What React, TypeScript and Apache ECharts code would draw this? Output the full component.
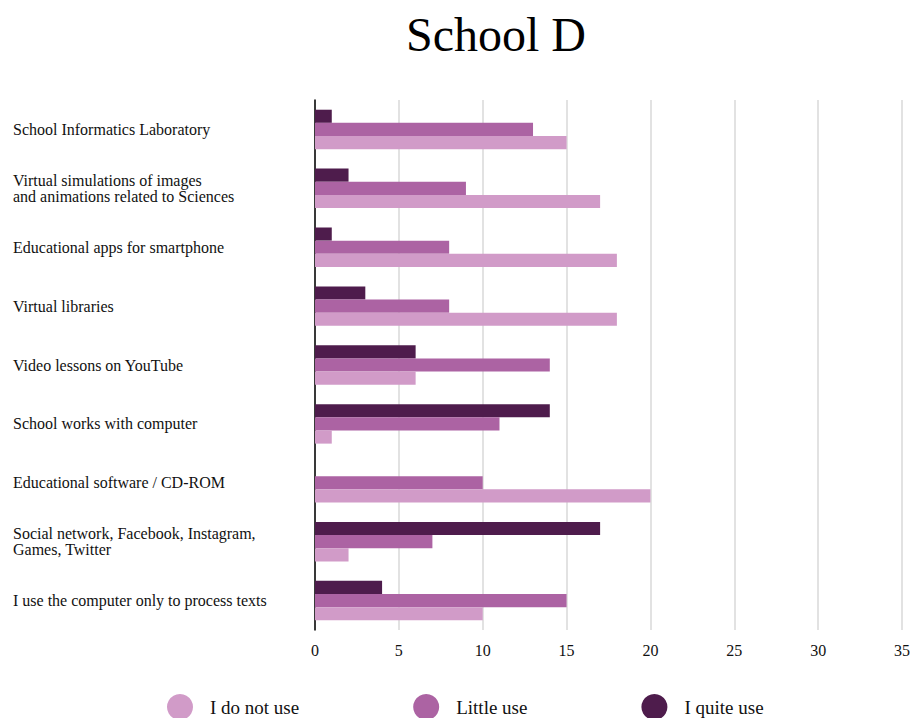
import React, { useEffect, useRef } from "react";
import * as echarts from "echarts";

const categories = [
  "School Informatics Laboratory",
  "Virtual simulations of images\nand animations related to Sciences",
  "Educational apps for smartphone",
  "Virtual libraries",
  "Video lessons on YouTube",
  "School works with computer",
  "Educational software / CD-ROM",
  "Social network, Facebook, Instagram,\nGames, Twitter",
  "I use the computer only to process texts",
];
const doNotUse = [15, 17, 18, 18, 6, 1, 20, 2, 10];
const littleUse = [13, 9, 8, 8, 14, 11, 10, 7, 15];
const quiteUse = [1, 2, 1, 3, 6, 14, 0, 17, 4];

const FONT = "'Liberation Serif', 'Times New Roman', serif";

export default function App() {
  const ref = useRef<HTMLDivElement>(null);
  useEffect(() => {
    const chart = echarts.init(ref.current!, undefined, { renderer: "svg" });
    chart.setOption({
      animation: false,
      textStyle: { fontFamily: FONT },
      title: {
        text: "School D",
        left: 401,
        top: 5,
        textStyle: { fontFamily: FONT, fontSize: 48, fontWeight: "normal", color: "#000" },
      },
      legend: {
        data: ["I do not use", "Little use", "I quite use"],
        left: 162,
        top: 689,
        icon: "circle",
        itemWidth: 28,
        itemHeight: 26,
        itemGap: 114,
        textStyle: { fontFamily: FONT, fontSize: 19, color: "#111", padding: [0, 0, 0, 11] },
      },
      grid: { left: 315, right: 10, top: 100, bottom: 88, containLabel: false },
      xAxis: {
        type: "value",
        min: 0,
        max: 35,
        interval: 5,
        axisLine: { show: false },
        axisTick: { show: false },
        splitLine: { show: true, lineStyle: { color: "#d9d9d9", width: 1.5 } },
        axisLabel: { fontFamily: FONT, fontSize: 16, color: "#111", margin: 12 },
      },
      yAxis: {
        type: "category",
        data: categories,
        inverse: true,
        axisLine: { show: true, lineStyle: { color: "#000", width: 1.5 } },
        axisTick: { show: false },
        axisLabel: {
          fontFamily: FONT,
          fontSize: 16,
          color: "#111",
          align: "left",
          margin: 302,
          lineHeight: 16,
          padding: [0, 0, 5, 0],
        },
      },
      series: [
        {
          name: "I quite use",
          type: "bar",
          data: quiteUse,
          itemStyle: { color: "#4e1c4c" },
          barGap: "0%",
          barCategoryGap: "33%",
        },
        {
          name: "Little use",
          type: "bar",
          data: littleUse,
          itemStyle: { color: "#ac63a3" },
          barGap: "0%",
          barCategoryGap: "33%",
        },
        {
          name: "I do not use",
          type: "bar",
          data: doNotUse,
          itemStyle: { color: "#d19bc8" },
          barGap: "0%",
          barCategoryGap: "33%",
        },
      ],
    });
    return () => chart.dispose();
  }, []);
  return <div ref={ref} style={{ width: 913, height: 718, position: "absolute", left: 0, top: 0 }} />;
}
